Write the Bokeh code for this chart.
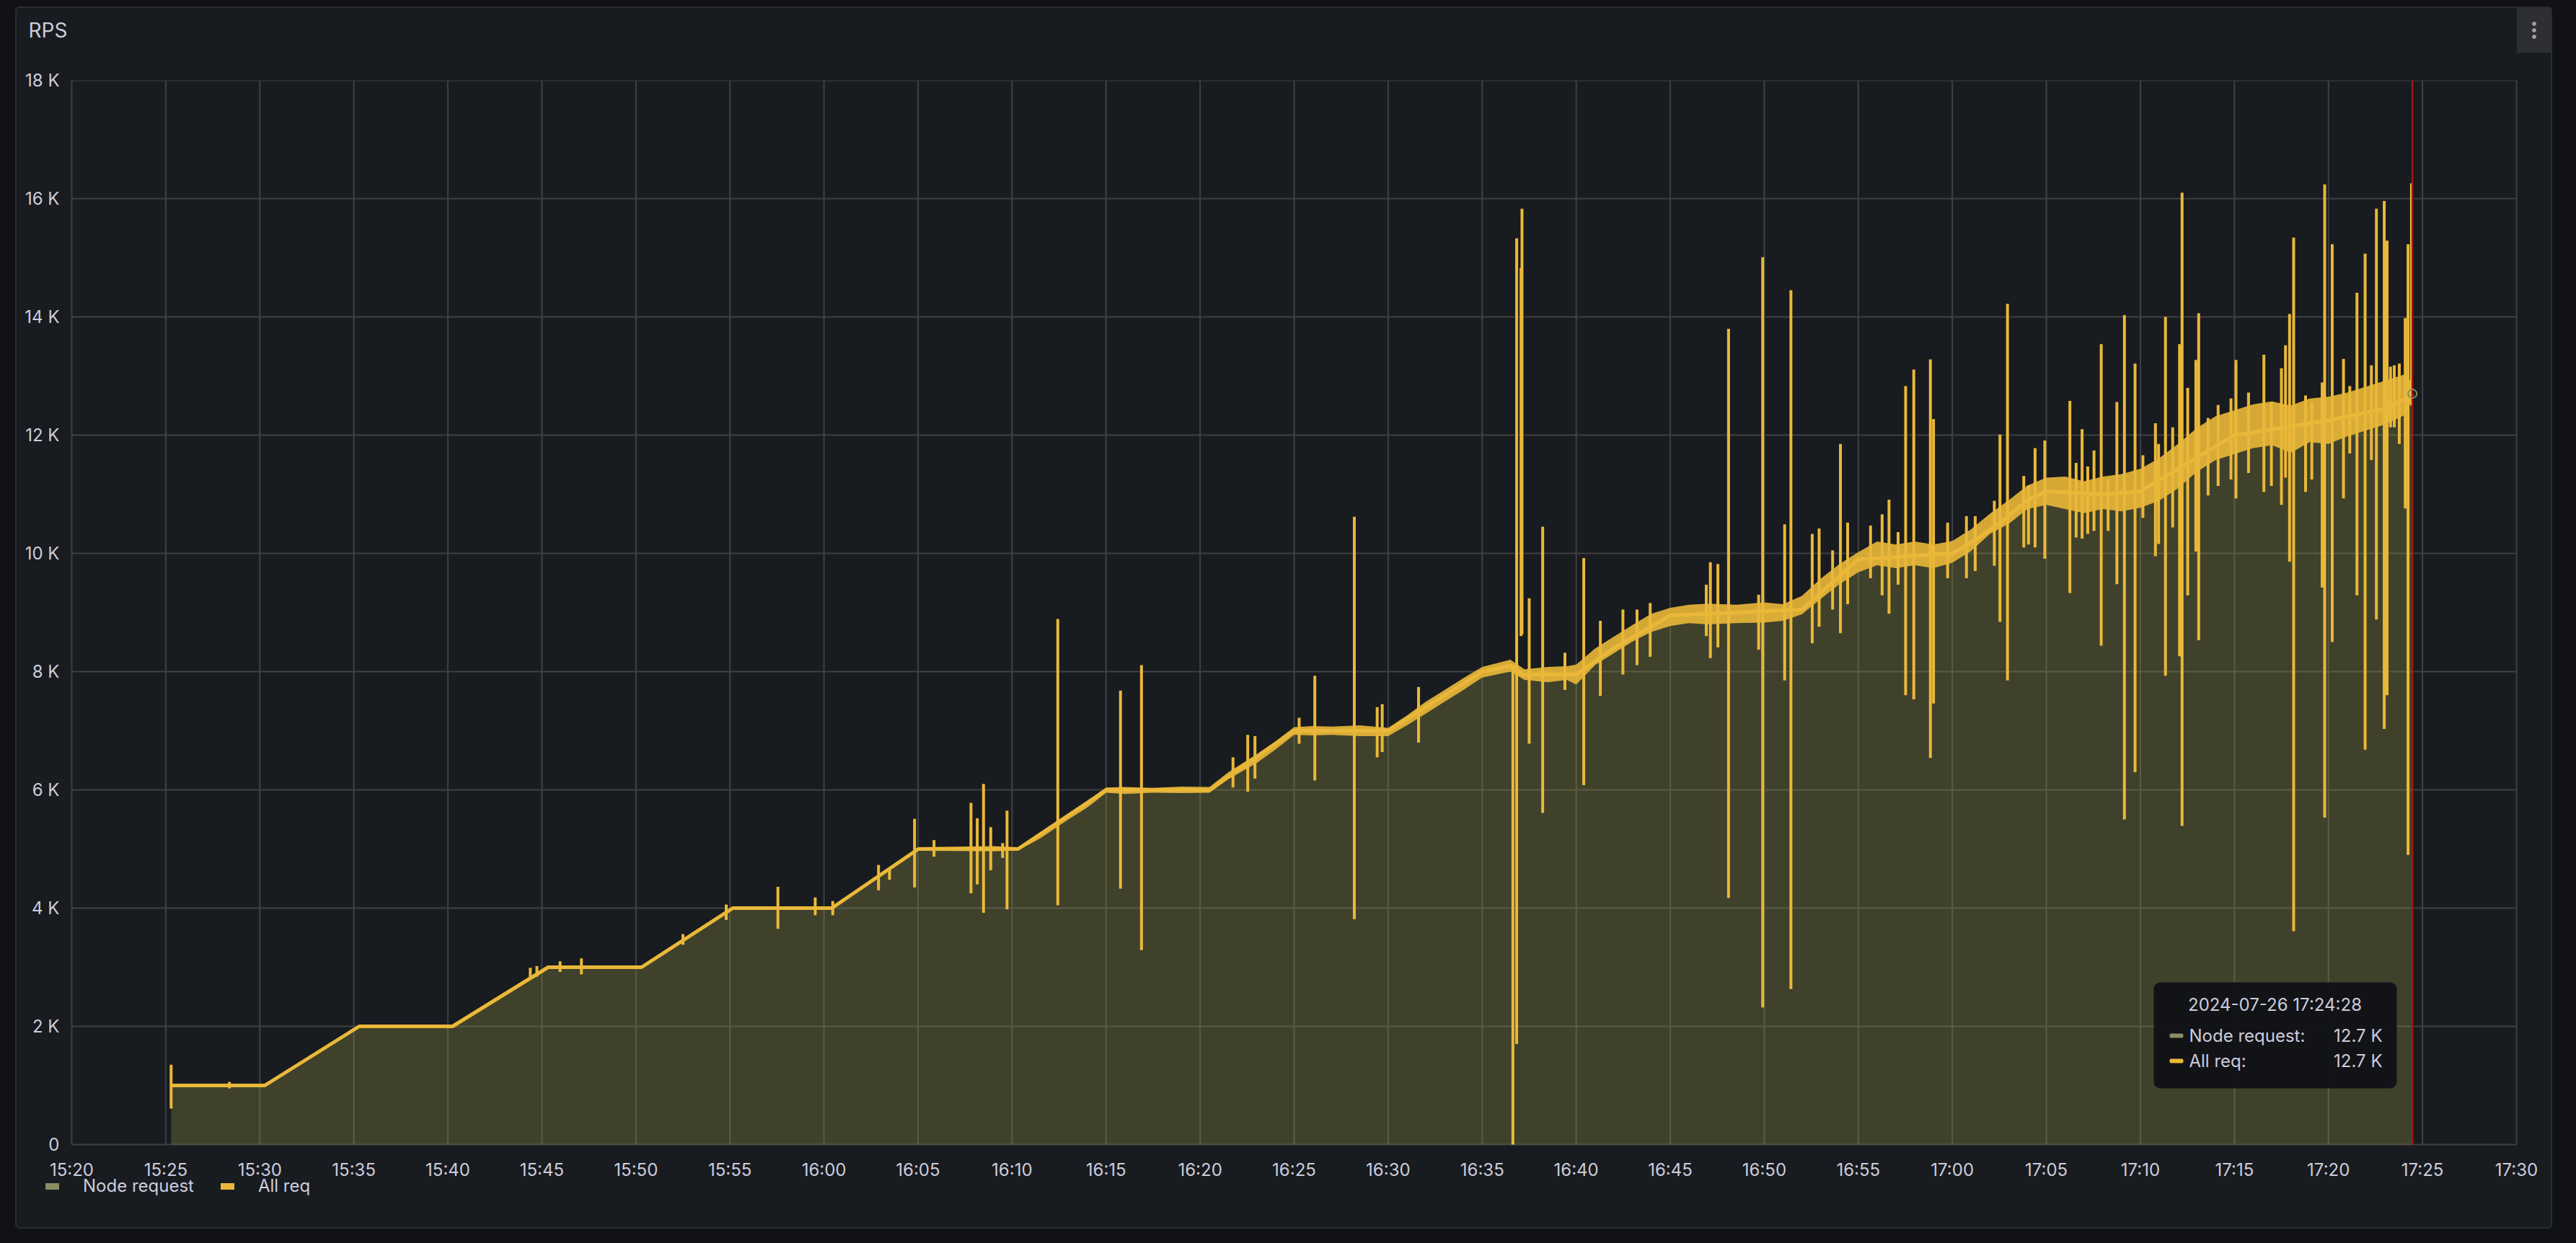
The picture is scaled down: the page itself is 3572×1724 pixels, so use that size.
import numpy as np
from bokeh.plotting import figure
from bokeh.models import (ColumnDataSource, Range1d, FixedTicker, DatetimeTickFormatter,
                          Legend, LegendItem, Label, BoxAnnotation, Title)
from bokeh.embed import file_html
from bokeh.resources import INLINE

# ---------------- data ----------------
DATE = "2024-07-26"
panel_title = "RPS"
series_names = ["Node request", "All req"]

x_tick_labels = ["15:20", "15:25", "15:30", "15:35", "15:40", "15:45", "15:50", "15:55",
                 "16:00", "16:05", "16:10", "16:15", "16:20", "16:25", "16:30", "16:35",
                 "16:40", "16:45", "16:50", "16:55", "17:00", "17:05", "17:10", "17:15",
                 "17:20", "17:25", "17:30"]
y_ticks = [0, 2000, 4000, 6000, 8000, 10000, 12000, 14000, 16000, 18000]
y_tick_labels = ["0", "2 K", "4 K", "6 K", "8 K", "10 K", "12 K", "14 K", "16 K", "18 K"]

# level of the request rate (both series coincide)
line_times = ["15:25:17", "15:30:16", "15:35:17", "15:40:15", "15:45:20", "15:50:18",
              "15:55:09", "16:00:25", "16:05:01", "16:10:19", "16:15:01", "16:20:30",
              "16:25:01", "16:30:00", "16:35:00", "16:36:34", "16:37:10", "16:40:00",
              "16:42:00", "16:45:00", "16:52:00", "16:55:00", "17:00:00", "17:01:20",
              "17:02:40", "17:04:00", "17:05:00", "17:08:00", "17:10:00", "17:15:00",
              "17:20:00", "17:23:00", "17:24:22", "17:24:28"]
line_values = [1000, 1000, 2000, 2000, 3000, 3000,
               4000, 4000, 5000, 5000, 6000, 6000,
               7000, 7000, 8000, 8100, 7950, 7950,
               8400, 8950, 9050, 9900, 10000, 10250,
               10550, 10900, 11050, 11000, 11050, 12000,
               12250, 12450, 12650, 12700]

# short-lived spikes of "All req": time, highest and lowest value
spike_times = ["15:25:17", "15:28:23", "15:44:23", "15:44:44", "15:45:58", "15:47:06",
               "15:52:30", "15:54:48", "15:57:33", "15:59:32", "16:00:28", "16:02:54",
               "16:03:29", "16:04:49", "16:05:51", "16:07:49", "16:08:09", "16:08:29",
               "16:08:52", "16:09:30", "16:09:44", "16:12:26", "16:15:46", "16:16:53",
               "16:21:45", "16:22:32", "16:22:55", "16:25:16", "16:26:06", "16:28:12",
               "16:29:25", "16:29:41", "16:31:37", "16:36:38", "16:36:50", "16:37:04",
               "16:37:07", "16:37:30", "16:38:13", "16:39:24", "16:40:24", "16:41:17",
               "16:42:29", "16:43:14", "16:43:56", "16:46:55", "16:47:08", "16:47:32",
               "16:48:06", "16:49:42", "16:49:55", "16:51:05", "16:51:25", "16:52:33",
               "16:52:55", "16:53:38", "16:54:03", "16:54:26", "16:55:39", "16:56:16",
               "16:56:38", "16:57:07", "16:57:31", "16:57:57", "16:58:50", "16:59:00",
               "16:59:45", "17:00:45", "17:01:13", "17:02:14", "17:02:32", "17:02:56",
               "17:03:48", "17:04:03", "17:04:24", "17:04:55", "17:06:15", "17:06:35",
               "17:06:54", "17:07:12", "17:07:32", "17:07:55", "17:08:17", "17:08:45",
               "17:09:09", "17:09:43", "17:10:08", "17:10:48", "17:10:58", "17:11:20",
               "17:11:43", "17:12:05", "17:12:13", "17:12:31", "17:12:57", "17:13:06",
               "17:13:36", "17:14:08", "17:14:49", "17:15:05", "17:15:45", "17:16:34",
               "17:16:58", "17:17:30", "17:17:43", "17:17:56", "17:18:09", "17:18:47",
               "17:19:07", "17:19:40", "17:19:48", "17:20:12", "17:20:48", "17:21:08",
               "17:21:31", "17:21:57", "17:22:17", "17:22:33", "17:22:58", "17:23:07",
               "17:23:18", "17:23:30", "17:23:46", "17:24:05", "17:24:14", "17:24:25"]
spike_highs = [1350, 1060, 2990, 3020, 3100, 3150,
               3560, 4060, 4360, 4180, 4120, 4730,
               4660, 5510, 5150, 5780, 5520, 6100,
               5370, 5100, 5650, 8890, 7680, 8110,
               6550, 6930, 6910, 7220, 7930, 10620,
               7400, 7450, 7740, 8100, 15330, 14830,
               15830, 9240, 10450, 8320, 9920, 8860,
               9050, 9050, 9160, 9470, 9850, 9820,
               13800, 9300, 15010, 10490, 14450, 10330,
               10420, 10050, 11850, 10520, 10470, 10660,
               10910, 10360, 12830, 13110, 13280, 12270,
               10520, 10630, 10630, 10890, 12010, 14220,
               11310, 11150, 11780, 11910, 12580, 11530,
               12100, 11470, 11740, 13540, 11250, 12560,
               14030, 13210, 11660, 12200, 11850, 14000,
               12130, 13540, 16100, 12800, 13270, 14060,
               12290, 12510, 12620, 13270, 12720, 13360,
               12560, 13130, 13520, 14050, 15340, 12670,
               12560, 12890, 16240, 15230, 13290, 12830,
               14410, 15070, 13180, 15830, 15960, 15290,
               13160, 13180, 13210, 13980, 15230, 16260]
spike_lows = [610, 950, 2800, 2840, 2920, 2880,
              3380, 3800, 3650, 3880, 3880, 4300,
              4480, 4350, 4870, 4250, 4400, 3920,
              4640, 4850, 3980, 4050, 4330, 3290,
              6040, 5970, 6190, 6780, 6160, 3810,
              6550, 6640, 6800, 0, 1700, 8600,
              8630, 6780, 5610, 7690, 6080, 7590,
              7950, 8110, 8250, 8600, 8230, 8410,
              4170, 8370, 2320, 7850, 2630, 8480,
              8760, 9050, 8650, 9140, 9580, 9290,
              8980, 9470, 7600, 7530, 6540, 7460,
              9580, 9580, 9700, 9790, 8840, 7850,
              10100, 10150, 10100, 9910, 9330, 10270,
              10250, 10330, 10380, 8440, 10380, 9480,
              5500, 6300, 10600, 9950, 10160, 7930,
              10440, 8260, 5390, 9290, 10030, 8530,
              10980, 11140, 11250, 10930, 11360, 11040,
              11140, 10820, 11280, 9860, 3610, 11040,
              11250, 9420, 5530, 8500, 10930, 11690,
              9290, 6680, 11580, 8880, 7030, 7600,
              12130, 12130, 11850, 10760, 4900, 12500]

# thickness of the dense noisy band of "All req"
band_times = ["16:05:00", "16:07:00", "16:09:00", "16:10:20", "16:11:30", "16:13:00",
              "16:14:00", "16:15:00", "16:16:00", "16:17:30", "16:19:00", "16:20:30",
              "16:21:30", "16:23:00", "16:24:00", "16:25:00", "16:26:00", "16:27:00",
              "16:28:30", "16:30:00", "16:31:00", "16:32:00", "16:33:00", "16:34:00",
              "16:35:00", "16:36:30", "16:37:15", "16:38:30", "16:39:30", "16:40:00",
              "16:41:00", "16:42:00", "16:43:00", "16:44:00", "16:45:00", "16:46:00",
              "16:47:00", "16:48:30", "16:50:00", "16:51:00", "16:52:00", "16:53:00",
              "16:54:00", "16:55:00", "16:56:00", "16:57:00", "16:58:00", "16:59:00",
              "17:00:00", "17:01:00", "17:02:00", "17:03:00", "17:04:00", "17:05:00",
              "17:06:00", "17:07:00", "17:08:00", "17:09:00", "17:10:00", "17:11:00",
              "17:12:00", "17:13:00", "17:14:00", "17:15:00", "17:16:00", "17:17:00",
              "17:18:00", "17:19:00", "17:20:00", "17:21:00", "17:22:00", "17:23:00",
              "17:24:00", "17:24:28"]
band_highs = [5030, 5040, 5050, 5030, 5275, 5600,
              5810, 6040, 6050, 6035, 6055, 6050,
              6300, 6600, 6820, 7060, 7080, 7070,
              7090, 7050, 7260, 7490, 7690, 7890,
              8080, 8200, 8040, 8080, 8090, 8120,
              8390, 8590, 8790, 8980, 9080, 9130,
              9150, 9130, 9170, 9140, 9280, 9570,
              9820, 10020, 10200, 10150, 10200, 10150,
              10210, 10410, 10670, 10900, 11150, 11280,
              11300, 11220, 11300, 11340, 11430, 11610,
              11850, 12120, 12320, 12420, 12520, 12570,
              12500, 12620, 12650, 12720, 12820, 12920,
              13020, 12900]
band_lows = [4970, 4965, 4960, 4975, 5180, 5500,
             5700, 5950, 5930, 5950, 5945, 5950,
             6180, 6450, 6680, 6930, 6920, 6930,
             6910, 6910, 7090, 7290, 7490, 7690,
             7900, 8000, 7860, 7820, 7860, 7780,
             8110, 8310, 8510, 8670, 8770, 8820,
             8800, 8820, 8830, 8860, 8970, 9230,
             9480, 9680, 9800, 9750, 9800, 9750,
             9840, 10040, 10330, 10500, 10750, 10820,
             10750, 10680, 10750, 10710, 10770, 10890,
             11100, 11380, 11580, 11680, 11780, 11830,
             11700, 11880, 11850, 11980, 12080, 12180,
             12330, 12600]

hover_time = "17:24:28"

# ---------------- colours ----------------
BG_PANEL = "#181b1f"
TEXT = "#ccccdc"
GRID = "#3e4145"
YELLOW = "#EAB839"
NODE_LINE = "#8c8c63"
NODE_FILL = "#9a9d4a"
RED = "#a3160c"


def ms(hms):
    return float(np.datetime64(f"{DATE}T{hms}", "ms").astype("int64"))


X0 = ms(x_tick_labels[0] + ":00")
X1 = ms(x_tick_labels[-1] + ":00")
Y1 = y_ticks[-1]

# geometry (pixels)
FIG_W, FIG_H = 3518, 1695
PAD_L, PAD_R = 42, 36              # frame room left of 15:20 and right of 17:30
B_LEFT, B_RIGHT, B_TOP, B_BOTTOM = 78 - PAD_L, 50 - PAD_R, 102, 44
VALUE_W = 3390                     # width of the 15:20..17:30 span
PLOT_H = 1476                      # height of the 0..18 K value area
FRAME_H = FIG_H - B_TOP - B_BOTTOM
EXTRA = FRAME_H - PLOT_H           # room under the value 0 (axis labels + legend)
MS_PER_PX = (X1 - X0) / VALUE_W
XS, XE = X0 - PAD_L * MS_PER_PX, X1 + PAD_R * MS_PER_PX
Y0 = -EXTRA * Y1 / PLOT_H


def sx(px):  # pixel right of the 15:20 line -> x data
    return X0 + px * MS_PER_PX


def sy(py):  # pixel above the 0 line -> y data
    return py * Y1 / PLOT_H


p = figure(width=FIG_W, height=FIG_H, x_axis_type="datetime",
           x_range=Range1d(XS, XE), y_range=Range1d(Y0, Y1),
           output_backend="svg", toolbar_location=None,
           min_border_left=B_LEFT, min_border_right=B_RIGHT,
           min_border_top=B_TOP, min_border_bottom=B_BOTTOM,
           background_fill_color=BG_PANEL, border_fill_color=BG_PANEL, border_fill_alpha=0,
           outline_line_color=None, margin=(9, 0, 0, 21))
# panel frame + menu button of the dashboard panel (CSS only, behind the transparent border)
DOT = "radial-gradient(circle, #a0a1a8 2.4px, transparent 3.2px)"
p.styles = {
    "outline": "2px solid #2a2c31", "outline-offset": "-2px",
    "border-radius": "6px", "overflow": "hidden",
    "background-color": BG_PANEL,
    "background-image": f"{DOT}, {DOT}, {DOT}, linear-gradient(#2d2f34, #2d2f34)",
    "background-size": "10px 10px, 10px 10px, 10px 10px, 48px 63px",
    "background-position": "3488px 18.7px, 3488px 28px, 3488px 37.3px, 3469px 1px",
    "background-repeat": "no-repeat",
}

# title (with an empty spacer title between it and the plot area)
p.title.text = panel_title
p.title.text_color = TEXT
p.title.text_font = "Inter"
p.title.text_font_size = "28px"
p.title.text_font_style = "normal"
p.title.align = "left"
p.title.offset = -60 + PAD_L
p.title.standoff = 0
p.add_layout(Title(text=" ", text_font_size="10px", standoff=40), "above")

# axes
x_ticks = [ms(t + ":00") for t in x_tick_labels]
p.xaxis.ticker = FixedTicker(ticks=x_ticks)
p.xaxis.formatter = DatetimeTickFormatter(minutes="%H:%M", hourmin="%H:%M", hours="%H:%M",
                                          minsec="%H:%M", seconds="%H:%M", days="%H:%M")
p.xaxis.fixed_location = 0
p.yaxis.ticker = FixedTicker(ticks=y_ticks)
p.yaxis.major_label_overrides = {t: lab for t, lab in zip(y_ticks, y_tick_labels)}
for ax in p.axis:
    ax.axis_line_color = None
    ax.major_tick_line_color = None
    ax.minor_tick_line_color = None
    ax.major_label_text_color = TEXT
    ax.major_label_text_font = "Inter"
    ax.major_label_text_font_size = "24px"
p.xaxis.major_label_standoff = 14
p.yaxis.major_label_standoff = 11 - PAD_L

# grid lines only over the value area
p.xgrid.visible = False
p.ygrid.visible = False
p.segment(x0=x_ticks, y0=[y_ticks[0]] * len(x_ticks), x1=x_ticks, y1=[Y1] * len(x_ticks),
          line_color=GRID, line_width=2, level="underlay")
p.segment(x0=[X0] * len(y_ticks), y0=y_ticks, x1=[X1] * len(y_ticks), y1=y_ticks,
          line_color=GRID, line_width=2, level="underlay")

# data renderers
src = ColumnDataSource(dict(t=[ms(t) for t in line_times], v=line_values))
p.varea(x="t", y1=0, y2="v", source=src, fill_color=NODE_FILL, fill_alpha=0.3)
p.line(x="t", y="v", source=src, line_color=NODE_LINE, line_width=2)

band_src = ColumnDataSource(dict(t=[ms(t) for t in band_times], lo=band_lows, hi=band_highs))
p.varea(x="t", y1="lo", y2="hi", source=band_src, fill_color=YELLOW, fill_alpha=0.9)
p.line(x="t", y="v", source=src, line_color=YELLOW, line_width=5)

spike_src = ColumnDataSource(dict(t=[ms(t) for t in spike_times], lo=spike_lows, hi=spike_highs))
p.segment(x0="t", y0="lo", x1="t", y1="hi", source=spike_src, line_color=YELLOW, line_width=4)

# time cursor and hover marker
p.segment(x0=[ms(hover_time)], y0=[y_ticks[0]], x1=[ms(hover_time)], y1=[Y1],
          line_color=RED, line_width=2.5)
p.scatter(x=[ms(line_times[-1])], y=[line_values[-1]], size=12, fill_alpha=0,
          line_color=NODE_LINE, line_width=2)

# legend (under the time axis)
r_node = p.line(x=[XS], y=[Y0], line_color=NODE_LINE, line_width=9, line_cap="round")
r_all = p.line(x=[XS], y=[Y0], line_color=YELLOW, line_width=9, line_cap="round")
legend = Legend(items=[LegendItem(label=series_names[0], renderers=[r_node]),
                       LegendItem(label=series_names[1], renderers=[r_all])],
                orientation="horizontal", location=(PAD_L - 36, 1),
                background_fill_alpha=0, border_line_color=None,
                label_text_color=TEXT, label_text_font="Inter", label_text_font_size="24px",
                glyph_width=19, glyph_height=24, label_height=24, label_standoff=33,
                spacing=37, padding=0, margin=0)
p.add_layout(legend, "center")

# tooltip
last_val = line_values[-1]
val_txt = f"{last_val / 1000:.1f} K"
p.add_layout(BoxAnnotation(left=sx(2887), right=sx(3224), bottom=sy(78), top=sy(225),
                           fill_color="#111217", fill_alpha=0.97, line_color=None,
                           border_radius=9))
p.add_layout(Label(x=sx(3055), y=sy(194), text=f"{DATE} {hover_time}", text_color=TEXT,
                   text_font="Inter", text_font_size="24px", text_align="center",
                   text_baseline="middle"))
for row_y, name, col in ((151, series_names[0], NODE_LINE), (116, series_names[1], YELLOW)):
    p.add_layout(BoxAnnotation(left=sx(2909), right=sx(2928), bottom=sy(row_y - 3),
                               top=sy(row_y + 3), fill_color=col, fill_alpha=1,
                               line_color=None, border_radius=2))
    p.add_layout(Label(x=sx(2936), y=sy(row_y), text=name + ":", text_color=TEXT,
                       text_font="Inter", text_font_size="24px", text_align="left",
                       text_baseline="middle"))
    p.add_layout(Label(x=sx(3204), y=sy(row_y), text=val_txt, text_color=TEXT,
                       text_font="Inter", text_font_size="24px", text_align="right",
                       text_baseline="middle"))

TEMPLATE = """{% block postamble %}<style>html, body { background: #111217; }</style>{% endblock %}"""

open("out.html", "w").write(file_html(p, INLINE, title=panel_title, template=TEMPLATE))
